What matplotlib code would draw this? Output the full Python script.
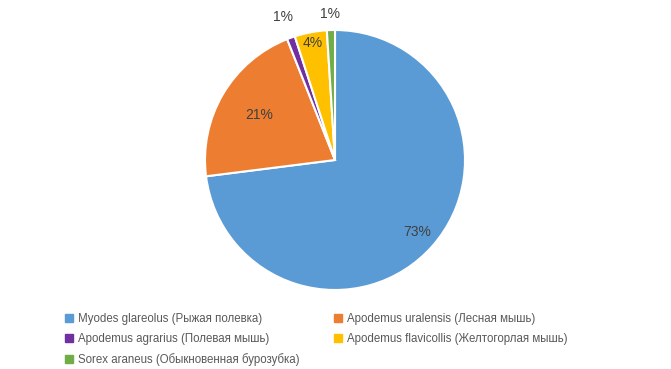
import numpy as np
import matplotlib
matplotlib.use("Agg")
from matplotlib import pyplot as plt
from matplotlib.lines import Line2D

species = ['Myodes glareolus (Рыжая полевка)',
           'Apodemus uralensis (Лесная мышь)',
           'Apodemus agrarius (Полевая мышь)',
           'Apodemus flavicollis (Желтогорлая мышь)',
           'Sorex araneus (Обыкновенная бурозубка)']
shares = [73, 21, 1, 4, 1]
labels = ['73%', '21%', '1%', '4%', '1%']

colors = ['#5B9BD5', '#ED7D31', '#7030A0', '#FFC000', '#70AD47']
label_dist = [0.84, 0.68, 1.17, 0.92, 1.12]

plt.rcParams['font.family'] = ['Liberation Sans', 'DejaVu Sans']

fig = plt.figure(figsize=(6.71, 3.69), dpi=100)
W, H = 671, 369
cx, cy, r = 335, 160, 130
ax = fig.add_axes([(cx - r) / W, (H - cy - r) / H, 2 * r / W, 2 * r / H])

wedges, _ = ax.pie(shares, colors=colors, startangle=90, counterclock=False,
                   wedgeprops=dict(edgecolor='white', linewidth=1.5))
ax.set_xlim(-1, 1)
ax.set_ylim(-1, 1)
ax.set_aspect('equal')

for w, lab, d in zip(wedges, labels, label_dist):
    ang = np.deg2rad((w.theta1 + w.theta2) / 2)
    ax.text(d * np.cos(ang), d * np.sin(ang), lab, ha='center', va='center',
            fontsize=10, color='#404040')

handles = [Line2D([], [], marker='s', linestyle='', markersize=5.5,
                  markerfacecolor=c, markeredgecolor=c) for c in colors]
order = [0, 2, 4, 1, 3]
fig.legend([handles[i] for i in order], [species[i] for i in order],
           ncol=2, loc='upper left', bbox_to_anchor=(63 / W, 1 - 313 / H),
           frameon=False, fontsize=8.3, labelcolor='#595959',
           handletextpad=0.3, handlelength=1.0, columnspacing=2.8,
           labelspacing=0.7, borderaxespad=0, borderpad=0)

fig.savefig('out.png', dpi=100)
